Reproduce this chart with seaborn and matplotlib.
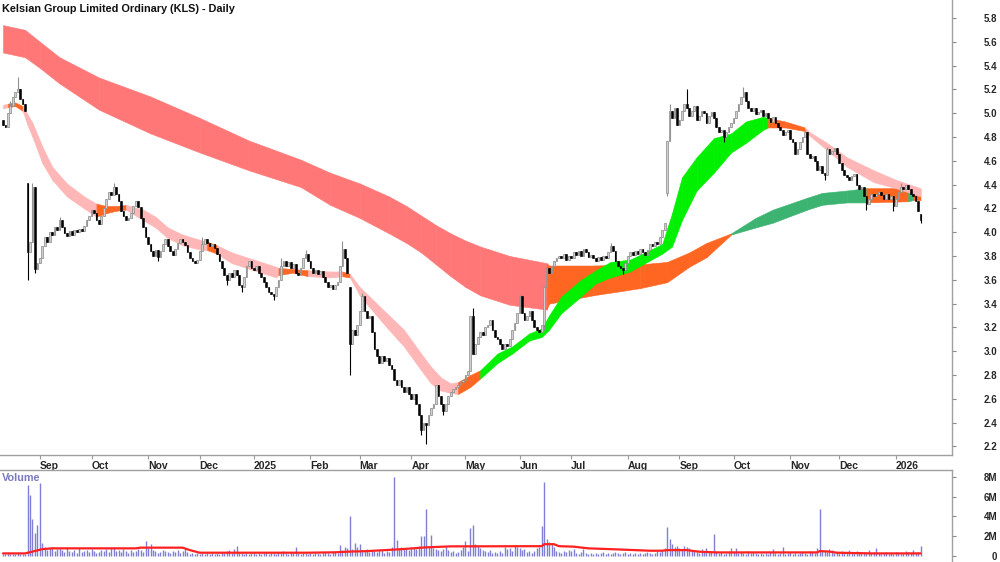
import numpy as np
import pandas as pd
import matplotlib
matplotlib.use('Agg')
import matplotlib.pyplot as plt
import seaborn as sns

title = "Kelsian Group Limited Ordinary (KLS) - Daily"
start_date = '2024-08-12'

# daily closes, cents
close = [
    490, 488, 500, 506, 514, 518, 520, 512, 508, 502,
    383, 392, 438, 369, 374, 378, 388, 396, 392, 400,
    398, 404, 402, 410, 404, 399, 397, 401, 398, 402,
    400, 403, 401, 405, 410, 414, 419, 416, 410, 407,
    414, 420, 428, 434, 431, 438, 432, 426, 418, 414,
    410, 412, 416, 422, 426, 421, 412, 404, 396, 390,
    384, 380, 385, 379, 384, 390, 394, 388, 384, 381,
    386, 391, 394, 392, 389, 383, 378, 376, 374, 377,
    384, 390, 394, 391, 388, 390, 387, 382, 376, 370,
    364, 360, 366, 362, 368, 364, 356, 354, 362, 372,
    376, 370, 368, 372, 366, 362, 358, 354, 350, 348,
    346, 354, 360, 372, 376, 372, 375, 370, 373, 366,
    364, 370, 378, 382, 376, 370, 366, 368, 365, 367,
    362, 358, 354, 356, 352, 356, 358, 372, 386, 378,
    366, 306, 318, 314, 322, 334, 346, 334, 328, 330,
    316, 302, 296, 290, 296, 292, 294, 288, 285, 276,
    272, 276, 270, 266, 270, 264, 260, 264, 256, 246,
    234, 240, 238, 246, 252, 256, 272, 262, 256, 250,
    256, 262, 266, 268, 270, 272, 274, 276, 280, 283,
    330, 298, 306, 312, 316, 314, 320, 322, 326, 318,
    312, 310, 306, 302, 306, 304, 310, 318, 324, 332,
    346, 332, 326, 330, 334, 326, 320, 318, 316, 322,
    354, 370, 366, 372, 376, 378, 380, 378, 382, 377,
    380, 378, 383, 381, 384, 380, 386, 383, 379, 381,
    378, 376, 379, 377, 380, 378, 383, 388, 384, 376,
    372, 370, 368, 374, 380, 383, 381, 384, 382, 386,
    383, 381, 385, 390, 388, 392, 390, 396, 402, 408,
    477, 502, 496, 504, 490, 494, 502, 508, 504, 498,
    502, 506, 494, 498, 502, 500, 492, 498, 501, 496,
    488, 484, 486, 480, 484, 488, 492, 496, 502, 508,
    514, 518, 510, 504, 502, 504, 499, 501, 503, 498,
    500, 496, 493, 497, 492, 488, 486, 482, 484, 486,
    478, 476, 466, 470, 476, 480, 484, 466, 462, 464,
    460, 452, 456, 450, 448, 470, 466, 468, 471, 466,
    458, 452, 448, 446, 444, 447, 449, 440, 436, 438,
    430, 424, 428, 432, 430, 432, 434, 431, 428, 432,
    428, 430, 422, 428, 434, 438, 436, 440, 436, 432,
    430, 426, 418, 410,
]
# opens that differ from the previous close (gaps)
gap_open = {0: 494, 10: 441, 141: 354, 270: 433, 373: 415}
# notable wicks
wick_high = {3: 510, 6: 530, 12: 441, 23: 413, 45: 441, 81: 396, 113: 378, 123: 385,
             138: 393, 146: 349, 191: 336, 210: 347, 247: 391, 271: 508, 278: 520,
             301: 522, 326: 486, 335: 472, 365: 441}
wick_low = {10: 360, 13: 366, 63: 376, 91: 356, 97: 350, 110: 343, 141: 280, 170: 230,
            172: 222, 179: 246, 220: 318, 252: 365, 270: 430, 293: 476, 334: 444,
            351: 419, 362: 418, 373: 408}

# volume, 0.1M units
volume = [
    2, 2, 3, 2, 2, 2, 3, 2, 2, 2,
    72, 62, 37, 23, 31, 74, 13, 9, 6, 8,
    9, 5, 7, 8, 6, 4, 9, 5, 4, 6,
    3, 8, 4, 5, 6, 4, 7, 5, 3, 4,
    6, 5, 7, 4, 8, 9, 5, 6, 4, 7,
    5, 3, 6, 4, 5, 7, 6, 4, 15, 8,
    12, 6, 5, 3, 4, 6, 5, 4, 3, 5,
    4, 6, 3, 5, 7, 4, 2, 3, 2, 3,
    2, 3, 2, 4, 2, 3, 2, 3, 2, 4,
    3, 5, 6, 3, 7, 10, 4, 3, 2, 3,
    2, 3, 4, 2, 3, 2, 3, 4, 2, 3,
    3, 2, 4, 3, 5, 3, 2, 4, 3, 9,
    3, 2, 4, 3, 2, 3, 2, 4, 3, 2,
    3, 4, 3, 2, 5, 4, 3, 11, 6, 9,
    8, 40, 7, 13, 9, 12, 6, 5, 7, 4,
    6, 5, 4, 7, 6, 3, 5, 4, 9, 80,
    16, 8, 9, 7, 8, 6, 9, 8, 7, 10,
    20, 20, 48, 9, 21, 8, 7, 6, 5, 7,
    10, 6, 4, 5, 3, 4, 6, 9, 15, 5,
    28, 31, 12, 10, 8, 6, 5, 4, 6, 3,
    4, 3, 5, 3, 9, 7, 8, 5, 10, 9,
    8, 6, 7, 4, 5, 3, 5, 8, 9, 30,
    75, 17, 14, 12, 9, 5, 4, 3, 5, 4,
    6, 5, 7, 3, 2, 4, 7, 3, 2, 3,
    2, 3, 2, 3, 4, 2, 3, 2, 3, 4,
    3, 2, 3, 4, 2, 3, 2, 3, 2, 3,
    2, 3, 4, 3, 2, 3, 5, 4, 6, 8,
    29, 17, 12, 9, 10, 8, 7, 10, 9, 8,
    6, 5, 4, 3, 7, 5, 8, 4, 5, 22,
    5, 3, 4, 2, 3, 4, 8, 4, 8, 3,
    4, 3, 2, 5, 3, 4, 3, 2, 3, 2,
    3, 2, 4, 7, 3, 2, 3, 9, 2, 3,
    4, 2, 3, 2, 3, 4, 3, 2, 5, 4,
    3, 8, 48, 6, 5, 4, 7, 6, 3, 4,
    3, 5, 4, 3, 6, 4, 3, 5, 4, 3,
    4, 3, 6, 3, 4, 8, 3, 2, 3, 4,
    2, 3, 2, 4, 3, 2, 3, 5, 4, 3,
    6, 3, 4, 10,
]

# volume moving average (M)
vol_ma_idx = [0, 9, 12, 16, 20, 54, 56, 73, 76, 80, 124, 135, 141, 148, 161, 172, 182,
              219, 220, 224, 226, 232, 238, 249, 263, 268, 270, 278, 283, 290, 331, 332,
              336, 339, 353, 373]
vol_ma_val = [0.27, 0.27, 0.45, 0.7, 0.78, 0.78, 0.85, 0.85, 0.6, 0.34, 0.34, 0.38, 0.45,
              0.5, 0.68, 0.88, 0.98, 1.0, 1.2, 1.2, 1.0, 0.95, 0.78, 0.68, 0.54, 0.54, 0.6,
              0.6, 0.44, 0.37, 0.37, 0.5, 0.45, 0.34, 0.27, 0.27]

# long-term ribbon
long_idx = [0, 9, 15, 23, 39, 60, 80, 100, 121, 133, 145, 157, 164, 170, 176, 182, 188, 194,
            206, 221, 222, 240, 259, 270, 279, 286, 296, 306, 313, 327, 333, 343, 351, 368,
            370, 373]
long_top = [5.74, 5.70, 5.60, 5.47, 5.30, 5.14, 4.96, 4.77, 4.61, 4.50, 4.41, 4.30, 4.22,
            4.14, 4.06, 3.99, 3.93, 3.88, 3.80, 3.74, 3.72, 3.72, 3.73, 3.75, 3.83, 3.91,
            3.99, 4.12, 4.19, 4.29, 4.33, 4.35, 4.37, 4.37, 4.37, 4.36]
long_bot = [5.51, 5.47, 5.38, 5.25, 5.03, 4.83, 4.67, 4.52, 4.38, 4.23, 4.12, 3.99, 3.91,
            3.83, 3.73, 3.63, 3.54, 3.47, 3.39, 3.35, 3.40, 3.47, 3.53, 3.58, 3.71, 3.79,
            3.98, 4.04, 4.08, 4.19, 4.23, 4.25, 4.25, 4.26, 4.27, 4.27]
long_state = ['d'] * 19 + ['m'] * 7 + ['u'] * 6 + ['m', 'u', 'm', 'm']

# short-term ribbon
short_idx = [0, 2, 5, 8, 10, 12, 16, 20, 26, 33, 38, 42, 46, 50, 57, 62, 67, 73, 81, 83, 87,
             93, 102, 111, 112, 118, 124, 133, 138, 141, 145, 149, 156, 163, 170, 174, 178,
             182, 185, 190, 194, 201, 207, 214, 219, 222, 227, 235, 241, 247, 255, 268, 272,
             276, 282, 289, 296, 302, 309, 311, 318, 326, 328, 335, 343, 354, 363, 373]
short_top = [5.07, 5.08, 5.09, 5.06, 4.99, 4.92, 4.72, 4.55, 4.41, 4.30, 4.24, 4.22, 4.22,
             4.23, 4.19, 4.13, 4.04, 3.98, 3.93, 3.92, 3.89, 3.83, 3.77, 3.71, 3.70, 3.69,
             3.68, 3.67, 3.67, 3.65, 3.54, 3.46, 3.32, 3.18, 2.98, 2.87, 2.78, 2.73, 2.74,
             2.80, 2.84, 2.98, 3.04, 3.15, 3.19, 3.30, 3.46, 3.60, 3.68, 3.75, 3.77, 3.90,
             4.16, 4.46, 4.63, 4.79, 4.83, 4.93, 4.97, 4.96, 4.93, 4.88, 4.84, 4.75, 4.63,
             4.52, 4.44, 4.37]
short_bot = [5.04, 5.05, 5.06, 5.02, 4.90, 4.80, 4.58, 4.44, 4.30, 4.20, 4.13, 4.16, 4.18,
             4.19, 4.10, 4.04, 3.95, 3.89, 3.85, 3.85, 3.82, 3.74, 3.68, 3.62, 3.64, 3.66,
             3.63, 3.62, 3.63, 3.62, 3.47, 3.37, 3.20, 3.04, 2.84, 2.73, 2.67, 2.65, 2.64,
             2.70, 2.77, 2.90, 2.98, 3.09, 3.12, 3.18, 3.32, 3.46, 3.57, 3.62, 3.67, 3.82,
             3.88, 4.10, 4.35, 4.50, 4.67, 4.75, 4.86, 4.88, 4.88, 4.85, 4.81, 4.69, 4.55,
             4.42, 4.37, 4.30]
short_state = (['d', 'm', 'm'] + ['d'] * 7 + ['m'] * 3 + ['d'] * 6 + ['m'] + ['d'] * 4 +
               ['m'] * 2 + ['d'] * 2 + ['m'] + ['d'] * 9 + ['m'] * 2 + ['u'] * 19 +
               ['m'] * 2 + ['d'] * 7)

price_ticks = [2.2, 2.4, 2.6, 2.8, 3.0, 3.2, 3.4, 3.6, 3.8, 4.0, 4.2, 4.4, 4.6, 4.8, 5.0,
               5.2, 5.4, 5.6, 5.8]
vol_ticks = [0, 2, 4, 6, 8]
vol_tick_labels = ['0', '2M', '4M', '6M', '8M']

long_colors = {'d': '#FF7777', 'm': '#FF6622', 'u': '#3CB371'}
short_colors = {'d': '#FFB6B6', 'm': '#FF6622', 'u': '#00F000'}

sns.set_theme(style='white')
plt.rcParams['font.family'] = ['Liberation Sans', 'DejaVu Sans']

n = len(close)
dates = pd.bdate_range(start_date, periods=n)
c = np.array(close) / 100.0
o = np.array([gap_open.get(i, close[i - 1] if i > 0 else close[0]) for i in range(n)]) / 100.0
hi = np.array([wick_high.get(i, max(o[i] * 100, c[i] * 100)) for i in range(n)]) / 100.0
lo = np.array([wick_low.get(i, min(o[i] * 100, c[i] * 100)) for i in range(n)]) / 100.0
x = np.arange(n)

fig = plt.figure(figsize=(10, 5.62), dpi=100)
ax = fig.add_axes([0, 0.1904, 0.952, 0.8096])
axv = fig.add_axes([0, 0, 0.952, 0.1637])

# ribbons
for idx, top, bot, state, cols, z in [(long_idx, long_top, long_bot, long_state, long_colors, 1),
                                      (short_idx, short_top, short_bot, short_state, short_colors, 2)]:
    for k in range(len(idx) - 1):
        col = cols[state[k]]
        ax.fill_between(idx[k:k + 2], top[k:k + 2], bot[k:k + 2], color=col,
                        edgecolor=col, lw=0.4, zorder=z)

# candles
up = c >= o
ax.vlines(x, lo, hi, color=np.where(up, '#909090', 'black'), lw=0.8, zorder=3)
body_h = np.maximum(np.abs(c - o), 0.007)
body_b = np.minimum(c, o)
ax.bar(x[up], body_h[up], bottom=body_b[up], width=0.7, color='#CFCFCF',
       edgecolor='#8A8A8A', lw=0.5, zorder=4)
ax.bar(x[~up], body_h[~up], bottom=body_b[~up], width=0.7, color='black',
       edgecolor='black', lw=0.4, zorder=4)

ax.set_xlim(-1.2, 385.8)
ax.set_ylim(2.128, 5.951)

# month ticks
d = pd.Series(dates)
firsts = d.groupby([d.dt.year, d.dt.month]).head(1).index[1:]
labels = [str(dates[i].year) if dates[i].month == 1 else dates[i].strftime('%b') for i in firsts]
ax.set_xticks(list(firsts))
ax.set_xticklabels(labels, fontweight='bold', fontsize=7.5)
for lab in ax.get_xticklabels():
    lab.set_ha('left')
ax.tick_params(axis='x', direction='out', length=3, width=0.8, color='#999999', pad=1,
               bottom=True)

ax.yaxis.tick_right()
ax.set_yticks(price_ticks)
ax.set_yticklabels([f'{p:.1f}' for p in price_ticks], fontweight='bold', fontsize=7)
ax.tick_params(axis='y', direction='out', length=3, width=0.8, color='#888888', pad=29.5,
               right=True)
for lab in ax.get_yticklabels():
    lab.set_ha('right')

for s in ['left', 'top']:
    ax.spines[s].set_visible(False)
for s in ['bottom', 'right']:
    ax.spines[s].set_color('#A0A0A0')
    ax.spines[s].set_linewidth(1)

ax.text(0.002, 0.992, title, transform=ax.transAxes, ha='left', va='top',
        fontsize=7.8, fontweight='bold', color='#111111')

# volume panel
axv.vlines(x, 0, np.array(volume) / 10.0, color='#7F7FD4', lw=1.0)
sns.lineplot(x=vol_ma_idx, y=vol_ma_val, ax=axv, color='#FF2020', lw=1.6)
axv.set_xlim(-1.2, 385.8)
axv.set_ylim(-0.6, 8.7)
axv.set_xticks([])
axv.yaxis.tick_right()
axv.set_yticks(vol_ticks)
axv.set_yticklabels(vol_tick_labels, fontweight='bold', fontsize=7)
axv.tick_params(axis='y', direction='out', length=3, width=0.8, color='#888888', pad=29.5,
                right=True)
for lab in axv.get_yticklabels():
    lab.set_ha('right')
for s in ['left', 'bottom']:
    axv.spines[s].set_visible(False)
for s in ['top', 'right']:
    axv.spines[s].set_color('#A0A0A0')
    axv.spines[s].set_linewidth(1)
axv.set_ylabel('')
axv.text(0.002, 0.97, 'Volume', transform=axv.transAxes, ha='left', va='top',
         fontsize=7.8, fontweight='bold', color='#7A7AC0')

fig.savefig('out.png', dpi=100)
